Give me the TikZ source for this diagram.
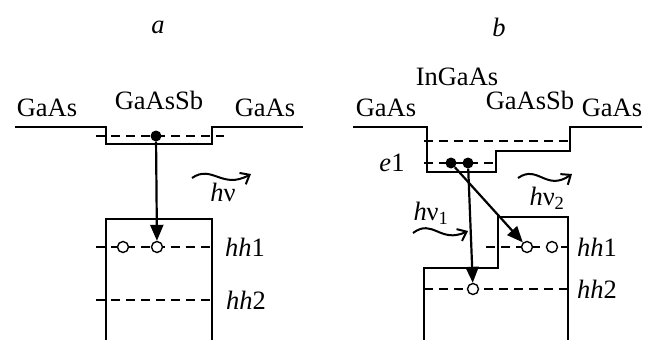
\documentclass[tikz,border=0pt]{standalone}
\usepackage{fontspec}
\setmainfont{Liberation Serif}
\usetikzlibrary{arrows.meta}
\tikzstyle{every node}+=[inner sep=0pt,font=\fontsize{26.5}{26.5}\selectfont]
\tikzstyle{band}=[line width=2.6pt]
\tikzstyle{level}=[line width=1.4pt,dash pattern=on 9pt off 6pt]
\tikzstyle{electron}=[circle,fill=black,minimum size=11pt]
\tikzstyle{hole}=[circle,draw,fill=white,line width=1.4pt,minimum size=11pt]
\tikzstyle{transition}=[line width=2.2pt,-{Triangle[length=16pt,width=13pt]}]
\tikzstyle{photon}=[line width=2pt,-{Straight Barb[length=8pt,width=13pt]}]
\newcommand{\nue}{\textup{ν}}
\begin{document}
\begin{tikzpicture}[x=1pt,y=-1pt]
\useasboundingbox (0,0) rectangle (651,340);

\node (a) at (158,27) {\itshape a};
\node (b) at (499,27) {\itshape b};

% panel a
\node (gaas1) at (47,108) {GaAs};
\node (gaassb1) at (159,100) {GaAsSb};
\node (gaas2) at (265,108) {GaAs};
\node (hnu) at (223,192) {\itshape h\nue};
\node (hh1a) at (245,247) {\itshape hh\upshape 1};
\node (hh2a) at (246,300) {\itshape hh\upshape 2};

\draw[band] (15,127) -- (106,127) -- (106,144) -- (212,144) -- (212,127) -- (303,127);
\draw[band] (106,340) -- (106,219) -- (212,219) -- (212,340);

\coordinate (ae1l) at (96,136);
\coordinate (ae1r) at (224,136);
\coordinate (ah1l) at (96,247);
\coordinate (ah1r) at (212,247);
\coordinate (ah2l) at (96,300);
\coordinate (ah2r) at (212,300);
\draw[level] (ae1l) -- (ae1r);
\draw[level] (ah1l) -- (ah1r);
\draw[level] (ah2l) -- (ah2r);

\node[electron] (ae) at (156,136) {};
\node[hole] (ah1) at (123,247) {};
\node[hole] (ah2) at (157,247) {};
\draw[transition] (ae) -- (ah2);

\coordinate (ap1) at (192,178);
\coordinate (ap2) at (251,174);
\draw[photon] (ap1) .. controls (212,164) and (222,190) .. (ap2);

% panel b
\node (gaas3) at (386,108) {GaAs};
\node (ingaas) at (457,77) {InGaAs};
\node (gaassb2) at (530,100) {GaAsSb};
\node (gaas4) at (612,108) {GaAs};
\node (e1) at (392,163) {\itshape e\upshape 1};
\node (hnu1) at (431,213) {\itshape h\nue\textsubscript{\upshape 1}};
\node (hnu2) at (547,198) {\itshape h\nue\textsubscript{\upshape 2}};
\node (hh1b) at (597,247) {\itshape hh\upshape 1};
\node (hh2b) at (597,289) {\itshape hh\upshape 2};

\draw[band] (353,127) -- (427,127) -- (427,172) -- (496,172) -- (496,151) -- (570,151) -- (570,127) -- (642,127);
\draw[band] (424,340) -- (424,268) -- (498,268) -- (498,217) -- (568,217) -- (568,340);

\coordinate (be2l) at (424,141);
\coordinate (be2r) at (570,141);
\coordinate (be1l) at (424,163);
\coordinate (be1r) at (496,163);
\coordinate (bh1l) at (486,247);
\coordinate (bh1r) at (568,247);
\coordinate (bh2l) at (424,289);
\coordinate (bh2r) at (568,289);
\draw[level] (be2l) -- (be2r);
\draw[level] (be1l) -- (be1r);
\draw[level] (bh1l) -- (bh1r);
\draw[level] (bh2l) -- (bh2r);

\node[electron] (be1) at (451,163) {};
\node[electron] (be2) at (468,163) {};
\node[hole] (bh1) at (527,247) {};
\node[hole] (bh2) at (552,247) {};
\node[hole] (bh3) at (473,289) {};
\draw[transition] (be1) -- (bh1);
\draw[transition] (be2) -- (bh3);

\coordinate (bp1) at (413,233);
\coordinate (bp2) at (468,231);
\draw[photon] (bp1) .. controls (433,218) and (440,244) .. (bp2);
\coordinate (bp3) at (518,178);
\coordinate (bp4) at (572,174);
\draw[photon] (bp3) .. controls (538,164) and (546,192) .. (bp4);
\end{tikzpicture}
\end{document}
